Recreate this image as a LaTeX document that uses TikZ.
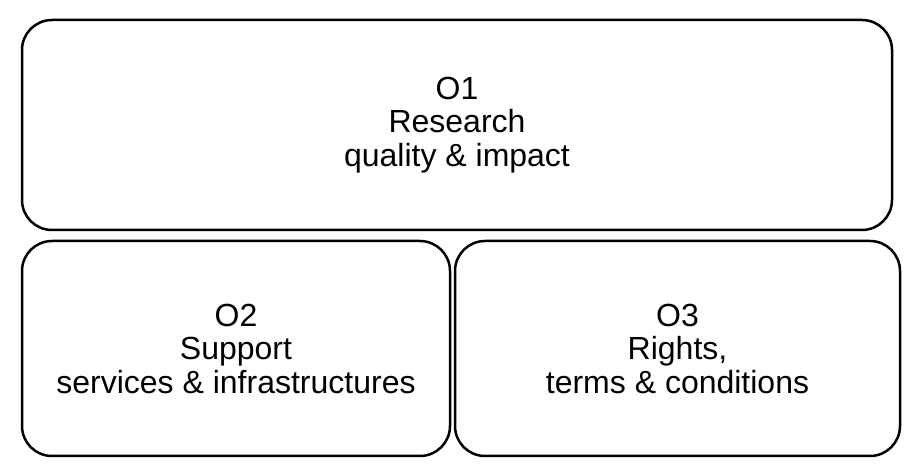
\documentclass[tikz,border=0pt]{standalone}
\usepackage{fontspec}
\setmainfont{Liberation Sans}
\usepackage{tikz}
\usetikzlibrary{
  positioning,
}
\tikzstyle{goal} = [
  draw,
  line width=2.5pt,
  rounded corners=30pt,
  align=center,
  inner sep=0pt,
  font=\fontsize{32}{33.5}\selectfont,
]
\begin{document}
\begin{tikzpicture}[x=1pt, y=1pt]

        \useasboundingbox (0,0) rectangle (910,476);

        \node [goal, minimum width=870pt, minimum height=210pt] (o1) at (457, 351) {O1\\ Research\\ quality \& impact};

        \node [goal, minimum width=428pt, minimum height=215pt] (o2) at (236, 127.5) {O2\\ Support\\ services \& infrastructures};

        \node [goal, minimum width=445pt, minimum height=215pt] (o3) at (677.5, 127.5) {O3\\ Rights,\\ terms \& conditions};

      \end{tikzpicture}
\end{document}
